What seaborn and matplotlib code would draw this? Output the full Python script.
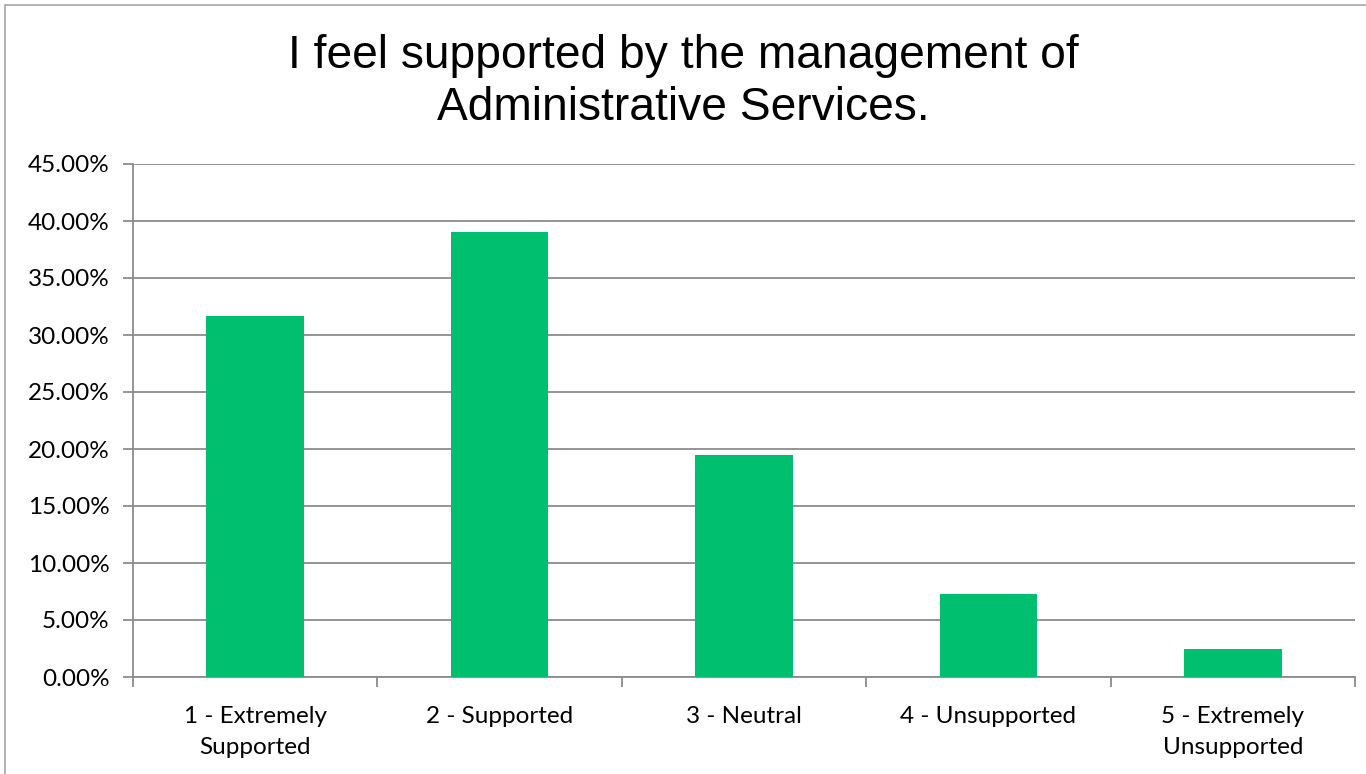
import matplotlib
matplotlib.use("Agg")
import matplotlib.pyplot as plt
import matplotlib.patches as mpatches
from matplotlib.ticker import FixedLocator, PercentFormatter
import seaborn as sns
import pandas as pd

categories = ["1 - Extremely\nSupported", "2 - Supported", "3 - Neutral",
              "4 - Unsupported", "5 - Extremely\nUnsupported"]
shares = [31.71, 39.02, 19.51, 7.32, 2.44]
y_ticks = [0, 5, 10, 15, 20, 25, 30, 35, 40, 45]
title = "I feel supported by the management of\nAdministrative Services."

df = pd.DataFrame({"response": categories, "share": shares})

sns.set_theme(style="white")
plt.rcParams["font.family"] = ["Lato", "DejaVu Sans"]
plt.rcParams["text.color"] = "black"

fig = plt.figure(figsize=(13.66, 7.74), dpi=100)
ax = fig.add_axes([133 / 1366, 1 - 677 / 774, (1355 - 133) / 1366, (677 - 164) / 774])

grid_col = "#8c8c8c"
sns.barplot(data=df, x="response", y="share", color="#00BF6F", width=0.4,
            saturation=1, linewidth=0, ax=ax, zorder=3)

ax.set_xlim(-0.5, len(categories) - 0.5)
ax.set_ylim(0, 45)
ax.yaxis.set_major_locator(FixedLocator(y_ticks))
ax.yaxis.set_major_formatter(PercentFormatter(decimals=2))
ax.grid(axis="y", color=grid_col, linewidth=1.3, zorder=0)
ax.set_axisbelow(True)

ax.set_xlabel("")
ax.set_ylabel("")
for side in ("top", "right"):
    ax.spines[side].set_visible(False)
for side in ("left", "bottom"):
    ax.spines[side].set_color(grid_col)
    ax.spines[side].set_linewidth(1.3)

ax.tick_params(axis="y", which="major", left=True, length=7, width=1.3,
               color=grid_col, labelsize=17.5, pad=10, labelcolor="black")
ax.tick_params(axis="x", which="major", bottom=False, labelsize=17.5,
               pad=15, labelcolor="black")
ax.xaxis.set_minor_locator(FixedLocator([i - 0.5 for i in range(len(categories) + 1)]))
ax.tick_params(axis="x", which="minor", bottom=True, length=7, width=1.3,
               color=grid_col)
for lbl in ax.get_xticklabels():
    lbl.set_linespacing(1.55)
    lbl.set_verticalalignment("top")

fig.text(0.5, 1 - 82 / 774, title, ha="center", va="center", fontsize=33.2,
         color="black", family=["Liberation Sans", "DejaVu Sans"], linespacing=1.22)

fig.patches.append(mpatches.Rectangle((5 / 1366, -0.01), 1.02, 1 - 5 / 774 + 0.01,
                                      transform=fig.transFigure, fill=False,
                                      edgecolor="#a6a6a6", linewidth=1.2))

fig.savefig("out.png", dpi=100, facecolor="white")
